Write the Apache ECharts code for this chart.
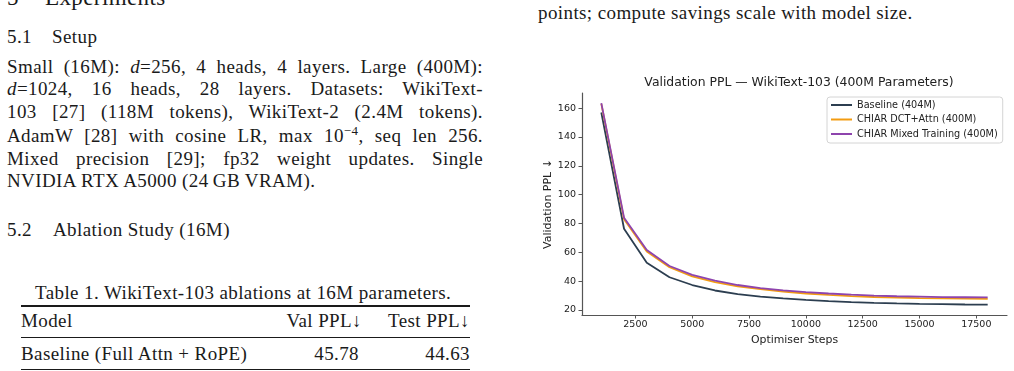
<!DOCTYPE html>
<html>
<head>
    <meta charset="UTF-8">
    <title>Validation PPL — WikiText-103</title>
    <script src="https://cdn.jsdelivr.net/npm/echarts@6/dist/echarts.min.js"></script>
    <style>
        html, body {
            margin: 0;
            padding: 0;
            width: 1014px;
            height: 371px;
            overflow: hidden;
            background: #fff;
        }

        .page {
            position: absolute;
            left: 0;
            top: 0;
            width: 1014px;
            height: 371px;
            font-family: "Liberation Serif", "DejaVu Serif", serif;
            color: #1a1a1a;
            font-size: 19px;
            letter-spacing: 0.4px;
        }

        .ln {
            position: absolute;
            white-space: nowrap;
            line-height: 20px;
        }

        /* 两端对齐的正文行 */
        .just {
            width: 476px;
            text-align: justify;
            text-align-last: justify;
        }

        .rule {
            position: absolute;
            left: 21px;
            width: 449px;
            background: #1a1a1a;
        }

        #chartContainer {
            position: absolute;
            left: 0;
            top: 0;
            width: 1014px;
            height: 371px;
        }
    </style>
</head>
<body>
<div class="page">
    <div class="ln" style="left:7px; top:-14px; font-size:23px; line-height:24px;">5</div>
    <div class="ln" style="left:45px; top:-14px; font-size:23px; line-height:24px;">Experiments</div>

    <div class="ln" style="left:7px; top:27px;">5.1</div>
    <div class="ln" style="left:52px; top:27px;">Setup</div>

    <div class="ln just" style="left:7px; top:57px;">Small (16M): <i>d</i>=256, 4 heads, 4 layers. Large (400M):</div>
    <div class="ln just" style="left:7px; top:79px;"><i>d</i>=1024, 16 heads, 28 layers. Datasets: WikiText-</div>
    <div class="ln just" style="left:7px; top:102px;">103 [27] (118M tokens), WikiText-2 (2.4M tokens).</div>
    <div class="ln just" style="left:7px; top:126px;">AdamW [28] with cosine LR, max 10<sup style="font-size:13px; line-height:0;">−4</sup>, seq len 256.</div>
    <div class="ln just" style="left:7px; top:149px;">Mixed precision [29]; fp32 weight updates. Single</div>
    <div class="ln" style="left:7px; top:171px;">NVIDIA RTX A5000 (24&#8201;GB VRAM).</div>

    <div class="ln" style="left:7px; top:220px;">5.2</div>
    <div class="ln" style="left:53px; top:220px;">Ablation Study (16M)</div>

    <div class="ln" style="left:35px; top:283px;">Table 1. WikiText-103 ablations at 16M parameters.</div>
    <div class="rule" style="top:305px; height:1.6px;"></div>
    <div class="ln" style="left:21px; top:311px;">Model</div>
    <div class="ln" style="left:262px; top:311px; width:100px; text-align:right;">Val PPL↓</div>
    <div class="ln" style="left:370px; top:311px; width:100px; text-align:right;">Test PPL↓</div>
    <div class="rule" style="top:337px; height:1px;"></div>
    <div class="ln" style="left:21px; top:344px;">Baseline (Full Attn + RoPE)</div>
    <div class="ln" style="left:290px; top:344px; width:69px; text-align:right;">45.78</div>
    <div class="ln" style="left:390px; top:344px; width:80px; text-align:right;">44.63</div>
    <div class="rule" style="top:369px; height:1px;"></div>

    <div class="ln" style="left:538px; top:3px;">points; compute savings scale with model size.</div>
</div>
<div id="chartContainer"></div>
<script>
    // 训练步数
    var steps = [1000, 2000, 3000, 4000, 5000, 6000, 7000, 8000, 9000,
        10000, 11000, 12000, 13000, 14000, 15000, 16000, 17000, 18000];

    // 各模型的验证集困惑度
    var baseline = [157, 76.3, 52.8, 42.7, 37.3, 33.5, 31, 29.3, 28, 27,
        26.1, 25.4, 24.9, 24.5, 24.2, 24, 23.8, 23.7];
    var dctAttn = [163, 83, 60.5, 49.6, 43.3, 39.3, 36.4, 34.4, 32.8, 31.4,
        30.4, 29.6, 29, 28.5, 28.2, 28, 27.8, 27.7];
    var mixedTraining = [163.5, 84, 61.6, 50.5, 44.3, 40.3, 37.3, 35.2, 33.6, 32.4,
        31.4, 30.6, 30, 29.5, 29.2, 28.9, 28.8, 28.7];

    var seriesNames = ['Baseline (404M)', 'CHIAR DCT+Attn (400M)', 'CHIAR Mixed Training (400M)'];
    var seriesColors = ['#2c3e50', '#f39c12', '#8e44ad'];

    // 刻度标签
    var xTicks = [2500, 5000, 7500, 10000, 12500, 15000, 17500];
    var yTicks = [20, 40, 60, 80, 100, 120, 140, 160];

    function toPairs(values) {
        var data = [];
        for (var i = 0; i < steps.length; i++) {
            data.push([steps[i], values[i]]);
        }
        return data;
    }

    function drawLineChart() {
        var myChart = echarts.init(document.getElementById('chartContainer'));
        var font = 'DejaVu Sans';
        var axisColor = '#555';
        var allValues = [baseline, dctAttn, mixedTraining];
        var series = [];
        for (var i = 0; i < allValues.length; i++) {
            series.push({
                name: seriesNames[i],
                type: 'line',
                data: toPairs(allValues[i]),
                symbol: 'none',
                lineStyle: {width: 1.8, color: seriesColors[i]},
                itemStyle: {color: seriesColors[i]},
                animation: false
            });
        }
        var option = {
            animation: false,
            title: {
                text: 'Validation PPL — WikiText-103 (400M Parameters)',
                left: 794,
                textAlign: 'center',
                top: 72,
                textStyle: {fontFamily: font, fontSize: 12.4, fontWeight: 'normal', color: '#222'}
            },
            legend: {
                orient: 'vertical',
                left: 827,
                top: 97,
                padding: [3, 5, 4, 4],
                itemGap: 4.5,
                itemWidth: 21,
                itemHeight: 2,
                icon: 'rect',
                borderColor: '#d4d4d4',
                borderWidth: 1,
                borderRadius: 3,
                backgroundColor: '#fff',
                textStyle: {fontFamily: font, fontSize: 9.7, color: '#222'},
                data: seriesNames
            },
            grid: {
                left: 582,
                top: 93,
                right: 7,
                bottom: 56,
                containLabel: false
            },
            xAxis: {
                type: 'value',
                min: 150,
                max: 18850,
                name: 'Optimiser Steps',
                nameLocation: 'middle',
                nameGap: 12,
                nameTextStyle: {fontFamily: font, fontSize: 10.9, color: '#222'},
                axisLine: {lineStyle: {color: axisColor, width: 1.2}},
                axisTick: {show: true, length: 3.5, customValues: xTicks, lineStyle: {color: axisColor}},
                axisLabel: {
                    customValues: xTicks,
                    margin: 5,
                    fontFamily: font,
                    fontSize: 9.5,
                    color: '#222',
                    formatter: function (v) {
                        return String(v);
                    }
                },
                splitLine: {show: false}
            },
            yAxis: {
                type: 'value',
                min: 16.5,
                max: 170.5,
                name: 'Validation PPL ↓',
                nameLocation: 'middle',
                nameGap: 20,
                nameTextStyle: {fontFamily: font, fontSize: 11, color: '#222'},
                axisLine: {show: true, lineStyle: {color: axisColor, width: 1.2}},
                axisTick: {show: true, length: 3.5, customValues: yTicks, lineStyle: {color: axisColor}},
                axisLabel: {customValues: yTicks, margin: 6, fontFamily: font, fontSize: 9.5, color: '#222'},
                splitLine: {show: false}
            },
            series: series
        };
        myChart.setOption(option);
    }

    window.onload = function () {
        drawLineChart();
    };
</script>
</body>
</html>
